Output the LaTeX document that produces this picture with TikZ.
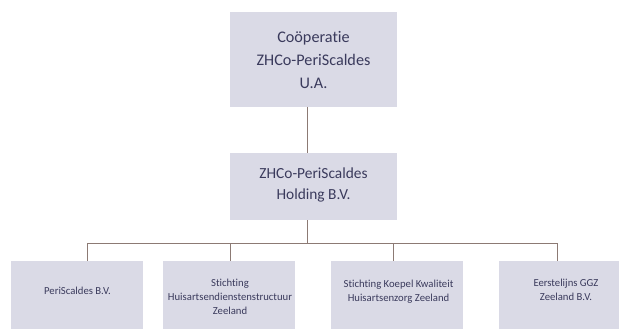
\documentclass[tikz,border=0pt]{standalone}
\usepackage{fontspec}
\setmainfont[Ligatures=NoCommon]{Carlito}
\definecolor{boxfill}{RGB}{218,218,230}
\definecolor{linecol}{RGB}{140,122,116}
\definecolor{txtcol}{RGB}{58,58,92}
\begin{document}
\begin{tikzpicture}[x=1pt,y=-1pt,
  orgbox/.style={fill=boxfill,draw=none,inner sep=0pt,outer sep=0pt},
  orgtext/.style={text=txtcol,align=center,inner sep=0pt},
  conn/.style={draw=linecol,line width=0.8pt}]
\useasboundingbox (0,0) rectangle (619,329);
\clip (0,0) rectangle (619,329);
\fill[white] (0,0) rectangle (619,329);
% boxes
\node[orgbox,minimum width=167pt,minimum height=95pt] (top) at (313.5,59.5) {};
\node[orgbox,minimum width=167pt,minimum height=67pt] (hold) at (313.5,186.5) {};
\node[orgbox,minimum width=132pt,minimum height=80pt] (b1) at (77,301) {};
\node[orgbox,minimum width=132pt,minimum height=80pt] (b2) at (229,301) {};
\node[orgbox,minimum width=132pt,minimum height=80pt] (b3) at (397,301) {};
\node[orgbox,minimum width=132pt,minimum height=80pt] (b4) at (565,301) {};
% texts
\node[orgtext,font=\fontsize{16.2}{23}\selectfont] (ttop) at (313.5,60) {Coöperatie\\ZHCo-PeriScaldes\\U.A.};
\node[orgtext,font=\fontsize{15.4}{21.5}\selectfont] (thold) at (313.5,185) {ZHCo-PeriScaldes\\Holding B.V.};
\node[orgtext,font=\fontsize{10.7}{14}\selectfont] (t1) at (77.5,291) {PeriScaldes B.V.};
\node[orgtext,font=\fontsize{10.7}{14}\selectfont] (t2) at (230,296.5) {Stichting\\Huisartsendienstenstructuur\\Zeeland};
\node[orgtext,font=\fontsize{10.7}{14}\selectfont] (t3) at (398.5,292) {Stichting Koepel Kwaliteit\\Huisartsenzorg Zeeland};
\node[orgtext,font=\fontsize{10.7}{14}\selectfont] (t4) at (566,290) {Eerstelijns GGZ\\Zeeland B.V.};
% connectors
\coordinate (busL) at (87,243);
\coordinate (busR) at (557,243);
\coordinate (busM) at (307,243);
\draw[conn] ([xshift=-6.5pt]top.south) -- ([xshift=-6.5pt]hold.north);
\draw[conn] ([xshift=-6.5pt]hold.south) -- (busM);
\draw[conn] (busL) -- (busR);
\draw[conn] (busL) -- (busL |- b1.north);
\draw[conn] (230,243) -- (230,261);
\draw[conn] (393,243) -- (393,261);
\draw[conn] (busR) -- (busR |- b4.north);
\end{tikzpicture}
\end{document}
